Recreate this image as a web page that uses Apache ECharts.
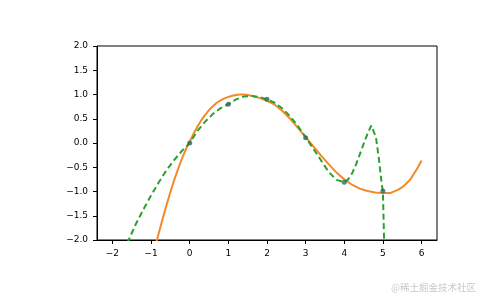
<!DOCTYPE html>
<html>
<head>
<meta charset="utf-8">
<script src="https://cdn.jsdelivr.net/npm/echarts@6/dist/echarts.min.js"></script>
<style>html,body{margin:0;padding:0;background:#fff}#c{width:485px;height:300px}</style>
</head>
<body>
<div id="c"></div>
<script>
// Tick labels
var xTicks = [-2, -1, 0, 1, 2, 3, 4, 5, 6];
var yTicks = [-2, -1.5, -1, -0.5, 0, 0.5, 1, 1.5, 2];

// Orange solid curve
var orangeX = [-0.9, -0.85, -0.7, -0.6, -0.5, -0.4, -0.3, -0.2, -0.1, 0, 0.1, 0.2, 0.3, 0.4, 0.5, 0.6, 0.7, 0.8, 0.9, 1.0, 1.1, 1.2, 1.3, 1.4, 1.5, 1.6, 1.8, 2.0, 2.2, 2.4, 2.6, 2.8, 3.0, 3.2, 3.4, 3.6, 3.8, 4.0, 4.2, 4.4, 4.6, 4.8, 5.0, 5.2, 5.4, 5.5, 5.6, 5.7, 5.8, 5.9, 6.0];
var orangeY = [-2.15, -2.0, -1.56, -1.28, -1.01, -0.76, -0.53, -0.32, -0.13, 0.03, 0.19, 0.34, 0.47, 0.58, 0.68, 0.76, 0.83, 0.88, 0.92, 0.95, 0.975, 0.99, 1.0, 1.0, 0.99, 0.975, 0.93, 0.87, 0.79, 0.66, 0.50, 0.31, 0.12, -0.07, -0.26, -0.44, -0.61, -0.75, -0.86, -0.94, -0.99, -1.02, -1.03, -1.03, -0.96, -0.91, -0.84, -0.76, -0.64, -0.51, -0.36];

// Green dashed curve
var greenX = [-1.7, -1.58, -1.4, -1.2, -1.0, -0.8, -0.6, -0.4, -0.2, 0, 0.2, 0.4, 0.6, 0.8, 1.0, 1.2, 1.4, 1.6, 1.8, 2.0, 2.2, 2.4, 2.6, 2.8, 3.0, 3.2, 3.4, 3.6, 3.8, 4.0, 4.1, 4.2, 4.3, 4.4, 4.5, 4.6, 4.7, 4.75, 4.82, 4.9, 4.97, 5.0, 5.03, 5.06];
var greenY = [-2.25, -2.0, -1.68, -1.37, -1.08, -0.81, -0.56, -0.35, -0.16, 0.0, 0.25, 0.44, 0.60, 0.72, 0.80, 0.90, 0.96, 0.97, 0.95, 0.90, 0.83, 0.71, 0.55, 0.35, 0.12, -0.12, -0.36, -0.60, -0.76, -0.81, -0.75, -0.63, -0.45, -0.24, -0.02, 0.19, 0.36, 0.40, 0.12, -0.35, -0.85, -1.0, -2.0, -2.6];

// Sample points
var pointX = [0, 1, 2, 3, 4, 5];
var pointY = [0.0, 0.8, 0.9, 0.11, -0.81, -0.99];

function zip(a, b) { return a.map(function (v, i) { return [v, b[i]]; }); }
function fmtMinus(s) { return String(s).replace('-', '\u2212'); }

var chart = echarts.init(document.getElementById('c'), null, {renderer: 'canvas'});
chart.setOption({
  animation: false,
  backgroundColor: '#ffffff',
  grid: {left: 97, right: 48, top: 46, bottom: 60, show: true, borderColor: '#000', borderWidth: 1, backgroundColor: 'transparent'},
  xAxis: {
    type: 'value', min: -2.4, max: 6.4,
    axisLine: {show: true, onZero: false, lineStyle: {color: '#000', width: 1}},
    axisTick: {show: true, length: 4, lineStyle: {color: '#000'}, customValues: xTicks},
    axisLabel: {customValues: xTicks, color: '#000', fontFamily: 'DejaVu Sans', fontSize: 9, margin: 9,
      formatter: function (v) { return fmtMinus(v); }},
    splitLine: {show: false}
  },
  yAxis: {
    type: 'value', min: -2, max: 2, interval: 0.5,
    axisLine: {show: true, onZero: false, lineStyle: {color: '#000', width: 1}},
    axisTick: {show: true, length: 4, lineStyle: {color: '#000'}, customValues: yTicks},
    axisLabel: {customValues: yTicks, color: '#000', fontFamily: 'DejaVu Sans', fontSize: 9, margin: 9,
      formatter: function (v) { return fmtMinus(Number(v).toFixed(1)); }},
    splitLine: {show: false}
  },
  series: [
    {type: 'line', data: zip(orangeX, orangeY), showSymbol: false, clip: true, z: 2,
      lineStyle: {color: '#f5892a', width: 2}},
    {type: 'line', data: zip(greenX, greenY), showSymbol: false, clip: true, z: 3,
      lineStyle: {color: '#2ca02c', width: 2, type: [6, 3.5]}},
    {type: 'scatter', data: zip(pointX, pointY), symbolSize: 5, z: 4,
      itemStyle: {color: '#2e6a6a'}}
  ],
  graphic: [{
    type: 'text', left: 391, top: 283,
    style: {text: '@稀土掘金技术社区', fill: '#c8c8c8', font: '9.5px "Noto Sans CJK SC"'}
  }]
});
</script>
</body>
</html>
